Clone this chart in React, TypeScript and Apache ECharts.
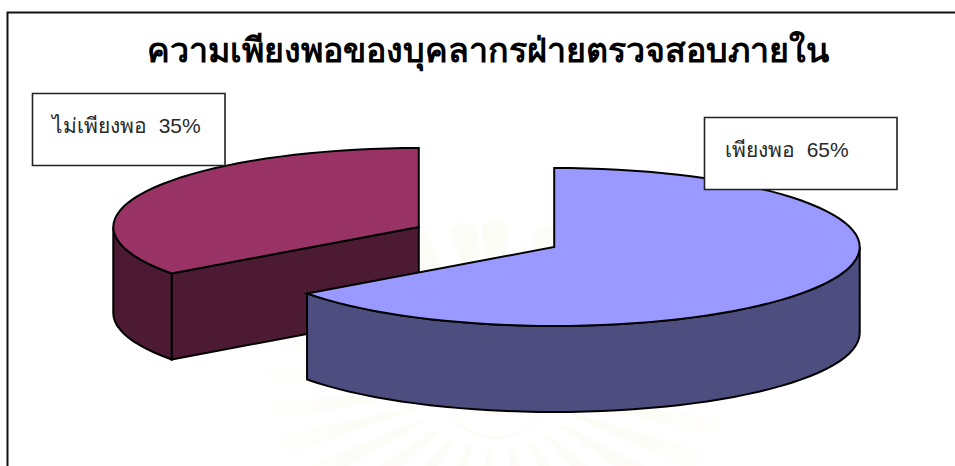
import React, { useEffect, useRef } from "react";
import * as echarts from "echarts";

// Survey shares, in the order they run clockwise from twelve o'clock
const categories = ["เพียงพอ", "ไม่เพียงพอ"];
const shares = [65, 35];
const topColors = ["#9999FF", "#993366"];
const sideColors = ["#4D4D80", "#4D1A33"];
const titleText = "ความเพียงพอของบุคลากรฝ่ายตรวจสอบภายใน";

// Pie projection
const CX = 486.5;
const CY = 237;
const RX = 305.5;
const RY = 79;
const DEPTH = 86;
const EXPLODE_X = 76;
const EXPLODE_Y = 22;

const EDGE = { stroke: "#000", lineWidth: 2, lineJoin: "miter" as const };

const rad = (d: number) => (d * Math.PI) / 180;

function rim(ox: number, oy: number, from: number, to: number, dy = 0) {
  const pts: number[][] = [];
  const n = Math.max(2, Math.ceil(Math.abs(to - from) / 3));
  for (let i = 0; i <= n; i++) {
    const a = rad(from + ((to - from) * i) / n);
    pts.push([ox + Math.sin(a) * RX, oy - Math.cos(a) * RY + dy]);
  }
  return pts;
}

function renderSlice(params: any, api: any) {
  const i = params.dataIndex;
  const total = shares.reduce((s, v) => s + v, 0);
  const before = shares.slice(0, i).reduce((s, v) => s + v, 0);
  const a0 = (before / total) * 360;
  const a1 = ((before + api.value(0)) / total) * 360;
  const mid = rad((a0 + a1) / 2);
  const ox = CX + Math.sin(mid) * EXPLODE_X;
  const oy = CY - Math.cos(mid) * EXPLODE_Y;
  const children: any[] = [];
  // Earlier slices stack above later ones, so the large slice overlaps the small one
  const layer = (shares.length - i) * 10;
  const face = (points: number[][], fill: string) =>
    children.push({
      type: "polygon",
      z2: layer + children.length,
      shape: { points },
      style: { fill, ...EDGE },
    });

  // Radial cut faces that turn toward the viewer
  const cutFace = (angle: number) => {
    const a = rad(angle);
    const edge = [ox + Math.sin(a) * RX, oy - Math.cos(a) * RY];
    face(
      [
        [ox, oy],
        edge,
        [edge[0], edge[1] + DEPTH],
        [ox, oy + DEPTH],
      ],
      sideColors[i]
    );
  };
  if (a1 < 360 && Math.sin(rad(a1)) > 0) cutFace(a1);
  if (a0 > 0 && Math.sin(rad(a0)) < 0) cutFace(a0);

  // Outer wall: only the part of the rim on the near half of the ellipse
  const wallFrom = Math.max(a0, 90);
  const wallTo = Math.min(a1, 270);
  if (wallTo > wallFrom) {
    const upper = rim(ox, oy, wallFrom, wallTo);
    const lower = rim(ox, oy, wallFrom, wallTo, DEPTH).reverse();
    face([...upper, ...lower], sideColors[i]);
  }

  // Top face
  face([[ox, oy], ...rim(ox, oy, a0, a1)], topColors[i]);
  return { type: "group", children };
}

// Faint emblem that sits over the whole page
const EMBLEM_X = 495;
const EMBLEM_Y = 385;
const rayAngles = [
  0, 14, 27, 40, 53, 66, 79, 92, 105, 118, 131, 144, 157, 170, 183, 196, 209, 222, 235, 248, 261, 274, 287, 300, 313,
  326, 339, 352,
];

function emblem() {
  const tint = (alpha: number) => `rgba(200,190,90,${alpha})`;
  const fade = new echarts.graphic.RadialGradient(
    EMBLEM_X,
    EMBLEM_Y,
    240,
    [
      { offset: 0.2, color: tint(0.045) },
      { offset: 0.68, color: tint(0.045) },
      { offset: 1, color: tint(0) },
    ],
    true
  );
  const rays = rayAngles.map((deg) => {
    const spot = (d: number, r: number) => {
      const a = rad(d);
      return [EMBLEM_X + Math.sin(a) * r * 1.42, EMBLEM_Y - Math.cos(a) * r];
    };
    return {
      type: "polygon",
      silent: true,
      shape: { points: [spot(deg - 1.5, 62), spot(deg - 3.5, 160), spot(deg, 165), spot(deg + 3.5, 160), spot(deg + 1.5, 62)] },
      style: { fill: fade },
    };
  });
  return {
    type: "group",
    z: 5,
    silent: true,
    children: [
      ...rays,
      {
        type: "circle",
        silent: true,
        shape: { cx: EMBLEM_X, cy: EMBLEM_Y, r: 53 },
        style: { fill: "none", stroke: tint(0.06), lineWidth: 2 },
      },
      {
        type: "circle",
        silent: true,
        shape: { cx: EMBLEM_X - 1, cy: EMBLEM_Y - 7, r: 15 },
        style: { fill: "rgba(120,105,110,0.1)", stroke: tint(0.06), lineWidth: 3 },
      },
      {
        type: "rect",
        silent: true,
        shape: { x: EMBLEM_X - 9, y: EMBLEM_Y + 7, width: 16, height: 24 },
        style: { fill: tint(0.05) },
      },
    ],
  };
}

function calloutBox(x: number, y: number, textX: number, index: number) {
  return [
    {
      type: "rect",
      z: 10,
      shape: { x, y, width: 192.5, height: 72 },
      style: { fill: "#fff", stroke: "#222", lineWidth: 1.6 },
    },
    {
      type: "text",
      z: 11,
      x: textX,
      y: y + 32,
      style: {
        text: `${categories[index]}  ${shares[index]}%`,
        font: '21px "Liberation Sans"',
        fill: "#2a2a2a",
        verticalAlign: "middle",
      },
    },
  ];
}

export default function App() {
  const ref = useRef<HTMLDivElement>(null);
  useEffect(() => {
    const chart = echarts.init(ref.current!, null, { renderer: "svg" });
    chart.setOption({
      animation: false,
      backgroundColor: "#fff",
      title: {
        text: titleText,
        left: 147,
        top: 33,
        padding: 0,
        textStyle: { fontFamily: "Liberation Sans", fontWeight: "bold", fontSize: 34, color: "#000" },
      },
      series: [
        {
          type: "custom",
          coordinateSystem: "none",
          data: shares.map((v, i) => ({ name: categories[i], value: [v] })),
          renderItem: renderSlice,
        },
      ],
      graphic: [
        {
          type: "polyline",
          z: 12,
          shape: { points: [[7.5, 466], [7.5, 12.5], [955, 12.5]] },
          style: { stroke: "#111", lineWidth: 2, fill: "none" },
        },
        ...calloutBox(32.5, 93.5, 52, 1),
        ...calloutBox(704.5, 117.5, 725, 0),
        emblem(),
      ],
    });
    return () => chart.dispose();
  }, []);
  return <div ref={ref} style={{ position: "fixed", left: 0, top: 0, width: 955, height: 466 }} />;
}
